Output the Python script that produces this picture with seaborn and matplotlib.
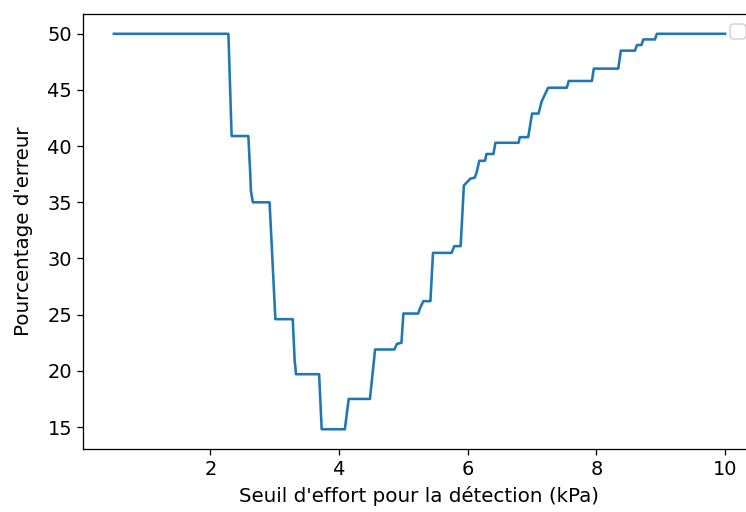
import matplotlib
matplotlib.use("Agg")
import matplotlib.pyplot as plt
import seaborn as sns
import pandas as pd

# Detection threshold (kPa) and the corresponding error rate (%)
threshold_kpa = [0.5, 2.28, 2.33, 2.59, 2.62, 2.63, 2.66, 2.92, 3.01, 3.28,
                 3.31, 3.32, 3.33, 3.69, 3.73, 4.09, 4.15, 4.48, 4.56, 4.86,
                 4.90, 4.97, 5.00, 5.23, 5.26, 5.31, 5.42, 5.46, 5.75, 5.79,
                 5.89, 5.94, 6.04, 6.11, 6.14, 6.18, 6.27, 6.29, 6.40, 6.43,
                 6.79, 6.81, 6.94, 7.00, 7.10, 7.15, 7.20, 7.25, 7.54, 7.57,
                 7.93, 7.96, 8.34, 8.38, 8.60, 8.63, 8.70, 8.73, 8.91, 8.94,
                 10.0]
error_pct = [50, 50, 40.9, 40.9, 37.5, 36.0, 35.0, 35.0, 24.6, 24.6,
             20.9, 20.4, 19.7, 19.7, 14.8, 14.8, 17.5, 17.5, 21.9, 21.9,
             22.4, 22.5, 25.1, 25.1, 25.6, 26.2, 26.2, 30.5, 30.5, 31.1,
             31.1, 36.5, 37.1, 37.2, 37.7, 38.7, 38.7, 39.3, 39.3, 40.3,
             40.3, 40.8, 40.8, 42.9, 42.9, 44.0, 44.6, 45.2, 45.2, 45.8,
             45.8, 46.9, 46.9, 48.5, 48.5, 49.0, 49.0, 49.5, 49.5, 50,
             50]

df = pd.DataFrame({"seuil": threshold_kpa, "erreur": error_pct})

plt.rcParams["font.size"] = 12

DPI = 116
fig = plt.figure(figsize=(746 / DPI, 512 / DPI), dpi=DPI)
ax = fig.add_axes([0.1117, 0.1230, 0.9012, 0.8496])

sns.lineplot(data=df, x="seuil", y="erreur", ax=ax,
             sort=False, estimator=None, color="#1f77b4", linewidth=1.6)

ax.set_xlabel("Seuil d'effort pour la détection (kPa)", fontsize=12.3)
ax.set_ylabel("Pourcentage d'erreur", fontsize=12.3, labelpad=9)
ax.legend(handles=[], loc="upper right")

fig.savefig("out.png", dpi=DPI)
